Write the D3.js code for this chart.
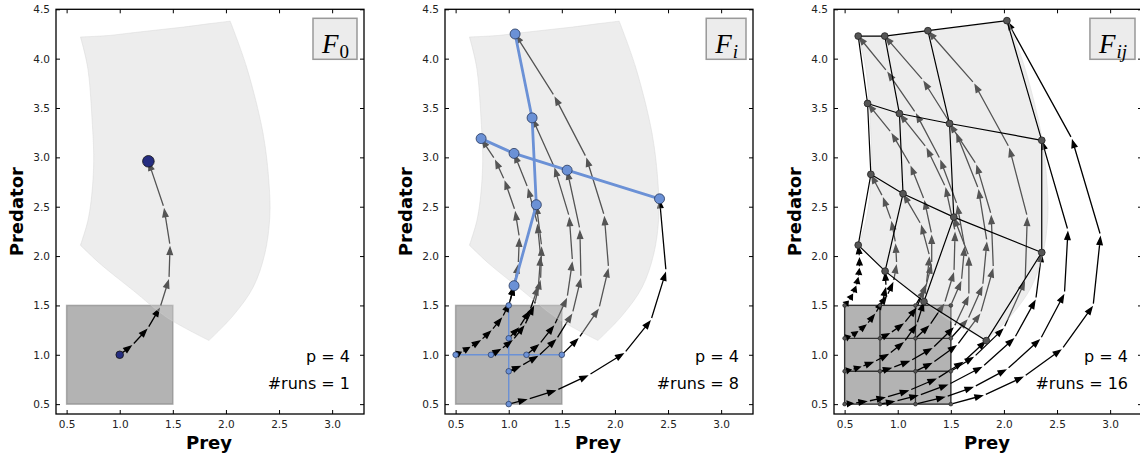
<!DOCTYPE html>
<html>
<head>
<meta charset="utf-8">
<script src="https://cdn.jsdelivr.net/npm/d3@7"></script>
<style>
  body { margin: 0; background: #fff; }
</style>
</head>
<body>
<svg id="chart" width="1140" height="460"></svg>
<script>
// ---------- data ----------
const xTicks = [0.5, 1.0, 1.5, 2.0, 2.5, 3.0];
const yTicks = [0.5, 1.0, 1.5, 2.0, 2.5, 3.0, 3.5, 4.0, 4.5];
const xLabel = "Prey";
const yLabel = "Predator";
const panelNames = [["F", "0", false], ["F", "i", true], ["F", "ij", true]];
const pValue = 4;
const runCounts = [1, 8, 16];

// initial box of starting conditions
const boxX = [0.5, 1.5];
const boxY = [0.5, 1.5];

// reachable set after time T, one array per edge (clockwise from top-left corner)
const reachTop = [[0.63, 4.22], [0.75, 4.225], [0.9, 4.235], [1.1, 4.26], [1.35, 4.29], [1.6, 4.32], [1.85, 4.355], [2.04, 4.38]];
const reachRight = [[2.04, 4.38], [2.194, 3.917], [2.35, 3.241], [2.406, 2.733], [2.413, 2.394], [2.366, 2.023], [2.256, 1.684], [2.068, 1.397], [1.84, 1.145]];
const reachBottom = [[1.84, 1.145], [1.443, 1.379], [1.129, 1.65], [0.816, 1.921], [0.63, 2.11]];
const reachLeft = [[0.63, 2.11], [0.707, 2.394], [0.754, 2.902], [0.738, 3.41], [0.697, 3.917], [0.63, 4.22]];

// F0: single run from the centre of the box
const runF0 = [[1.0, 1.0], [1.12, 1.10], [1.264, 1.268], [1.38, 1.48], [1.464, 1.769], [1.474, 2.107], [1.417, 2.49], [1.27, 2.96]];

// Fi: runs along the line x = 1 (by start y) ...
const runsFiVert = [
  [[1.0, 0.5], [1.18, 0.55], [1.45, 0.64], [1.754, 0.794], [2.09, 1.018], [2.34, 1.353], [2.481, 1.846], [2.42, 2.58]],
  [[1.0, 0.833], [1.12, 0.89], [1.28, 0.99], [1.45, 1.16], [1.6, 1.42], [1.68, 1.78], [1.67, 2.27], [1.55, 2.87]],
  [[1.0, 1.167], [1.1, 1.28], [1.2, 1.45], [1.28, 1.7], [1.3, 2.0], [1.27, 2.33], [1.18, 2.69], [1.05, 3.04]],
  [[1.0, 1.5], [1.05, 1.7], [1.09, 1.92], [1.10, 2.19], [1.06, 2.46], [0.96, 2.77], [0.87, 2.98], [0.74, 3.19]]
];
// ... and along the line y = 1 (by start x)
const runsFiHorz = [
  [[0.5, 1.0], [0.56, 1.03], [0.64, 1.08], [0.74, 1.15], [0.84, 1.25], [0.94, 1.38], [1.01, 1.53], [1.05, 1.70]],
  [[0.833, 1.0], [0.93, 1.06], [1.04, 1.15], [1.15, 1.3], [1.24, 1.5], [1.3, 1.76], [1.31, 2.1], [1.26, 2.52]],
  [[1.167, 1.0], [1.29, 1.11], [1.43, 1.3], [1.55, 1.58], [1.6, 1.95], [1.57, 2.4], [1.43, 2.9], [1.22, 3.40]],
  [[1.5, 1.0], [1.66, 1.17], [1.85, 1.47], [1.94, 1.88], [1.90, 2.41], [1.73, 3.0], [1.43, 3.62], [1.06, 4.25]]
];

// Fij: 4 x 4 grid of runs; rows by start y (0.5 .. 1.5), columns by start x (0.5 .. 1.5)
const runsFijY050 = [
  [[0.5, 0.5], [0.59, 0.51], [0.72, 0.53], [0.89, 0.57], [1.11, 0.64], [1.37, 0.76], [1.62, 0.93], [1.834, 1.143]],
  [[0.833, 0.5], [0.98, 0.53], [1.2, 0.59], [1.48, 0.70], [1.8, 0.88], [2.1, 1.17], [2.3, 1.56], [2.356, 2.036]],
  [[1.167, 0.5], [1.453, 0.574], [1.719, 0.676], [2.03, 0.855], [2.344, 1.16], [2.57, 1.62], [2.603, 2.26], [2.356, 3.173]],
  [[1.5, 0.5], [1.8125, 0.591], [2.19, 0.78], [2.547, 1.058], [2.84, 1.498], [2.91, 2.209], [2.64, 3.19], [2.028, 4.385]]
];
const runsFijY083 = [
  [[0.5, 0.833], [0.57, 0.85], [0.66, 0.88], [0.78, 0.93], [0.92, 1.01], [1.06, 1.13], [1.18, 1.31], [1.247, 1.539]],
  [[0.833, 0.833], [0.95, 0.87], [1.12, 0.94], [1.33, 1.07], [1.53, 1.28], [1.67, 1.6], [1.67, 2.0], [1.528, 2.395]],
  [[1.167, 0.833], [1.33, 0.92], [1.56, 1.1], [1.78, 1.42], [1.9, 1.88], [1.88, 2.42], [1.74, 2.93], [1.488, 3.343]],
  [[1.5, 0.833], [1.72, 0.98], [2.0, 1.27], [2.2, 1.75], [2.22, 2.4], [2.05, 3.1], [1.72, 3.75], [1.284, 4.283]]
];
const runsFijY117 = [
  [[0.5, 1.167], [0.56, 1.19], [0.63, 1.24], [0.71, 1.31], [0.79, 1.42], [0.86, 1.55], [0.89, 1.69], [0.881, 1.847]],
  [[0.833, 1.167], [0.93, 1.22], [1.06, 1.32], [1.18, 1.48], [1.27, 1.72], [1.3, 2.0], [1.22, 2.32], [1.05, 2.632]],
  [[1.167, 1.167], [1.3, 1.3], [1.44, 1.52], [1.53, 1.84], [1.54, 2.25], [1.45, 2.7], [1.27, 3.1], [1.016, 3.444]],
  [[1.5, 1.167], [1.66, 1.36], [1.8, 1.7], [1.84, 2.15], [1.76, 2.68], [1.55, 3.25], [1.24, 3.78], [0.878, 4.229]]
];
const runsFijY150 = [
  [[0.5, 1.5], [0.54, 1.55], [0.58, 1.62], [0.61, 1.7], [0.63, 1.79], [0.64, 1.88], [0.64, 1.99], [0.628, 2.111]],
  [[0.833, 1.5], [0.9, 1.6], [0.96, 1.74], [0.99, 1.92], [0.98, 2.13], [0.94, 2.36], [0.86, 2.6], [0.747, 2.828]],
  [[1.167, 1.5], [1.26, 1.67], [1.32, 1.92], [1.32, 2.22], [1.25, 2.57], [1.12, 2.92], [0.94, 3.25], [0.716, 3.546]],
  [[1.5, 1.5], [1.6, 1.75], [1.63, 2.1], [1.56, 2.52], [1.4, 2.98], [1.17, 3.45], [0.9, 3.87], [0.628, 4.229]]
];
const runsFij = [runsFijY050, runsFijY083, runsFijY117, runsFijY150];

// ---------- layout ----------
const svg = d3.select("#chart");
const panelLefts = [56, 445, 834];
const plotW = 308, plotTop = 9.3, plotBottom = 414;
const arrowColor = "#000";
const blue = "#6b91d6";
const sans = "'DejaVu Sans', sans-serif";
const serif = "'Liberation Serif', 'DejaVu Serif', serif";

function arrowPath(a, b, x, y) {
  const x0 = x(a[0]), y0 = y(a[1]), x1 = x(b[0]), y1 = y(b[1]);
  const dx = x1 - x0, dy = y1 - y0, L = Math.hypot(dx, dy);
  if (L < 1e-6) return "";
  const ux = dx / L, uy = dy / L;
  const s0 = Math.min(2, L * 0.15), s1 = Math.min(2, L * 0.15);
  const sx = x0 + ux * s0, sy = y0 + uy * s0;
  const tx = x1 - ux * s1, ty = y1 - uy * s1;
  const len = Math.hypot(tx - sx, ty - sy);
  const hl = Math.min(7, len * 0.8), hw = 2.6;
  const bx = tx - ux * hl, by = ty - uy * hl;
  return `M${sx},${sy}L${bx},${by}M${tx},${ty}L${bx - uy * hw},${by + ux * hw}L${bx + uy * hw},${by - ux * hw}Z`;
}

function drawRuns(g, runs, x, y) {
  const segs = [];
  runs.forEach(r => { for (let k = 0; k < r.length - 1; k++) segs.push([r[k], r[k + 1]]); });
  g.append("g").selectAll("path").data(segs).join("path")
    .attr("d", s => arrowPath(s[0], s[1], x, y))
    .attr("fill", arrowColor).attr("stroke", arrowColor)
    .attr("stroke-width", 1.3).attr("stroke-linejoin", "miter");
}

panelLefts.forEach((left, pi) => {
  const x = d3.scaleLinear().domain([0.4, 3.3]).range([left, left + plotW]);
  const y = d3.scaleLinear().domain([0.4, 4.5]).range([plotBottom, plotTop]);
  const g = svg.append("g");

  const clipId = "clip" + pi;
  svg.append("clipPath").attr("id", clipId).append("rect")
    .attr("x", left).attr("y", plotTop).attr("width", plotW).attr("height", plotBottom - plotTop);
  const body = g.append("g").attr("clip-path", `url(#${clipId})`);

  // initial box
  body.append("rect")
    .attr("x", x(boxX[0])).attr("y", y(boxY[1]))
    .attr("width", x(boxX[1]) - x(boxX[0])).attr("height", y(boxY[0]) - y(boxY[1]))
    .attr("fill", "#808080").attr("fill-opacity", 0.6)
    .attr("stroke", "#808080").attr("stroke-opacity", 0.6).attr("stroke-width", 1.5);

  // runs
  let runs;
  if (pi === 0) runs = [runF0];
  else if (pi === 1) runs = runsFiVert.concat(runsFiHorz);
  else runs = runsFij.flat();

  if (pi === 2) {
    // grid of starting points inside the box
    const gridLines = [];
    runsFij.forEach(row => gridLines.push(row.map(r => r[0])));
    for (let c = 0; c < 4; c++) gridLines.push(runsFij.map(row => row[c][0]));
    body.append("g").selectAll("path").data(gridLines).join("path")
      .attr("d", d3.line().x(d => x(d[0])).y(d => y(d[1])))
      .attr("fill", "none").attr("stroke", "#333").attr("stroke-width", 1.3);
  }
  if (pi === 1) {
    const boxLines = [runsFiVert.map(r => r[0]), runsFiHorz.map(r => r[0])];
    body.append("g").selectAll("path").data(boxLines).join("path")
      .attr("d", d3.line().x(d => x(d[0])).y(d => y(d[1])))
      .attr("fill", "none").attr("stroke", blue).attr("stroke-width", 1.4);
  }

  drawRuns(body, runs, x, y);

  // reachable region on top of the runs: smooth edges, sharp corners
  const edgeLine = d3.line().x(d => x(d[0])).y(d => y(d[1])).curve(d3.curveCatmullRom);
  const regionD = [reachTop, reachRight, reachBottom, reachLeft]
    .map((e, i) => { const s = edgeLine(e); return i === 0 ? s : "L" + s.slice(1); })
    .join("") + "Z";
  body.append("path")
    .attr("d", regionD)
    .attr("fill", "#d3d3d3").attr("fill-opacity", 0.4)
    .attr("stroke", "#d3d3d3").attr("stroke-opacity", 0.4).attr("stroke-width", 1);

  // start / end markers
  if (pi === 0) {
    body.append("circle").attr("cx", x(runF0[0][0])).attr("cy", y(runF0[0][1])).attr("r", 3.8)
      .attr("fill", "#252d80").attr("stroke", "#111").attr("stroke-width", 0.8);
    const e = runF0[runF0.length - 1];
    body.append("circle").attr("cx", x(e[0])).attr("cy", y(e[1])).attr("r", 5.8)
      .attr("fill", "#252d80").attr("stroke", "#111").attr("stroke-width", 0.8);
  } else if (pi === 1) {
    const imgLines = [runsFiVert.map(r => r[r.length - 1]), runsFiHorz.map(r => r[r.length - 1])];
    body.append("g").selectAll("path").data(imgLines).join("path")
      .attr("d", d3.line().x(d => x(d[0])).y(d => y(d[1])))
      .attr("fill", "none").attr("stroke", blue).attr("stroke-width", 2.8);
    body.append("g").selectAll("circle").data(runs.map(r => r[0])).join("circle")
      .attr("cx", d => x(d[0])).attr("cy", d => y(d[1])).attr("r", 2.8)
      .attr("fill", blue).attr("stroke", "#27375a").attr("stroke-width", 0.7);
    body.append("g").selectAll("circle").data(runs.map(r => r[r.length - 1])).join("circle")
      .attr("cx", d => x(d[0])).attr("cy", d => y(d[1])).attr("r", 5)
      .attr("fill", blue).attr("stroke", "#27375a").attr("stroke-width", 0.8);
  } else {
    const meshLines = [];
    runsFij.forEach(row => meshLines.push(row.map(r => r[r.length - 1])));
    for (let c = 0; c < 4; c++) meshLines.push(runsFij.map(row => row[c][row[c].length - 1]));
    body.append("g").selectAll("path").data(meshLines).join("path")
      .attr("d", d3.line().x(d => x(d[0])).y(d => y(d[1])))
      .attr("fill", "none").attr("stroke", "#000").attr("stroke-width", 1.2);
    body.append("g").selectAll("circle").data(runs.map(r => r[0])).join("circle")
      .attr("cx", d => x(d[0])).attr("cy", d => y(d[1])).attr("r", 1.9)
      .attr("fill", "#555").attr("stroke", "#222").attr("stroke-width", 0.6);
    body.append("g").selectAll("circle").data(runs.map(r => r[r.length - 1])).join("circle")
      .attr("cx", d => x(d[0])).attr("cy", d => y(d[1])).attr("r", 3.4)
      .attr("fill", "#555").attr("stroke", "#222").attr("stroke-width", 0.8);
  }

  // axes: inward ticks on all four sides
  const fmt = d3.format(".1f");
  const axB = g.append("g").attr("transform", `translate(0,${plotBottom})`)
    .call(d3.axisBottom(x).tickValues(xTicks).tickSizeInner(-4).tickSizeOuter(0).tickPadding(7).tickFormat(fmt));
  const axT = g.append("g").attr("transform", `translate(0,${plotTop})`)
    .call(d3.axisTop(x).tickValues(xTicks).tickSizeInner(-4).tickSizeOuter(0).tickFormat(""));
  const axL = g.append("g").attr("transform", `translate(${left},0)`)
    .call(d3.axisLeft(y).tickValues(yTicks).tickSizeInner(-4).tickSizeOuter(0).tickPadding(6).tickFormat(fmt));
  const axR = g.append("g").attr("transform", `translate(${left + plotW},0)`)
    .call(d3.axisRight(y).tickValues(yTicks).tickSizeInner(-4).tickSizeOuter(0).tickFormat(""));
  [axB, axT, axL, axR].forEach(a => {
    a.select(".domain").remove();
    a.selectAll(".tick line").attr("stroke", "#000").attr("stroke-width", 1);
    a.selectAll(".tick text").attr("font-size", 10.5).attr("fill", "#222")
      .style("font-family", sans);
  });

  // frame
  g.append("rect").attr("x", left).attr("y", plotTop).attr("width", plotW).attr("height", plotBottom - plotTop)
    .attr("fill", "none").attr("stroke", "#000").attr("stroke-width", 1.3);

  // axis titles
  g.append("text").attr("x", left + plotW / 2 - 1).attr("y", 449).attr("text-anchor", "middle")
    .style("font-family", sans).attr("font-size", 18).attr("font-weight", "bold").text(xLabel);
  g.append("text").attr("transform", `translate(${left - 33},${(plotTop + plotBottom) / 2}) rotate(-90)`)
    .style("font-family", sans).attr("text-anchor", "middle").attr("font-size", 18).attr("font-weight", "bold").text(yLabel);

  // annotation text
  const right = left + plotW;
  g.append("text").attr("x", right - 14).attr("y", 362).attr("text-anchor", "end")
    .style("font-family", sans).attr("font-size", 16).text(`p = ${pValue}`);
  g.append("text").attr("x", right - 14).attr("y", 389).attr("text-anchor", "end")
    .style("font-family", sans).attr("font-size", 16).text(`#runs = ${runCounts[pi]}`);

  // panel name in a box
  const nm = panelNames[pi];
  const lab = g.append("text").attr("y", 53).attr("text-anchor", "end").style("font-family", serif);
  lab.append("tspan").attr("font-style", "italic").attr("font-size", 27).text(nm[0]);
  lab.append("tspan").attr("font-size", 19).attr("dy", 5)
    .attr("font-style", nm[2] ? "italic" : "normal").attr("dx", 1).text(nm[1]);
  lab.attr("x", right - 7 - 8);
  const bb = lab.node().getBBox();
  g.insert("rect", () => lab.node())
    .attr("x", bb.x - 8).attr("y", plotTop + 9).attr("width", bb.width + 16).attr("height", 41)
    .attr("fill", "#ececec").attr("stroke", "#999").attr("stroke-width", 1.5);
});
</script>
</body>
</html>
